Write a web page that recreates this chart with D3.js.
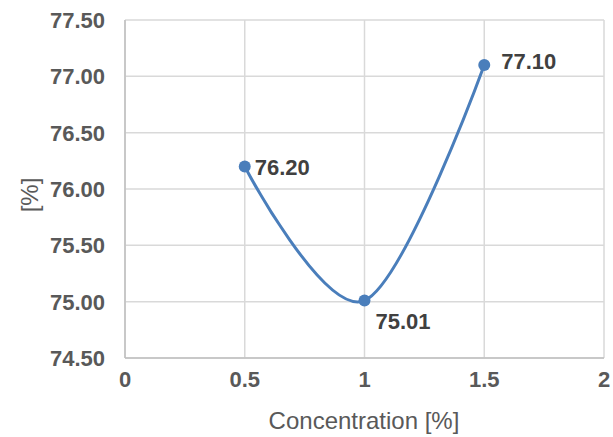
<!DOCTYPE html>
<html><head><meta charset="utf-8">
<script src="https://cdn.jsdelivr.net/npm/d3@7"></script>
<style>html,body{margin:0;padding:0;background:#fff;}svg{display:block;}</style>
</head><body>
<svg id="c" width="613" height="437"></svg>
<script>
const concentrations = [0.5, 1, 1.5];
const values = [76.20, 75.01, 77.10];
const valueLabels = ["76.20", "75.01", "77.10"];
const xTicks = [0, 0.5, 1, 1.5, 2];
const yTicks = [74.5, 75, 75.5, 76, 76.5, 77, 77.5];
const xTitle = "Concentration [%]";
const yTitle = "[%]";

const svg = d3.select("#c");
const x = d3.scaleLinear().domain([0, 2]).range([125, 604]);
const y = d3.scaleLinear().domain([74.5, 77.5]).range([358, 20]);
const gridColor = "#d9d9d9";
const textColor = "#595959";
const font = "Liberation Sans, Arial, sans-serif";

svg.append("g").selectAll("line").data(xTicks).join("line")
  .attr("x1", d => x(d)).attr("x2", d => x(d))
  .attr("y1", y(77.5)).attr("y2", y(74.5))
  .attr("stroke", gridColor).attr("stroke-width", 1.5);
svg.append("g").selectAll("line").data(yTicks).join("line")
  .attr("x1", x(0)).attr("x2", x(2))
  .attr("y1", d => y(d)).attr("y2", d => y(d))
  .attr("stroke", gridColor).attr("stroke-width", 1.5);

svg.append("line").attr("x1", x(0)).attr("x2", x(0)).attr("y1", y(77.5)).attr("y2", y(74.5))
  .attr("stroke", "#bfbfbf").attr("stroke-width", 1.5);
svg.append("line").attr("x1", x(0)).attr("x2", x(2)).attr("y1", y(74.5)).attr("y2", y(74.5))
  .attr("stroke", "#bfbfbf").attr("stroke-width", 1.5);

svg.append("g").selectAll("text").data(yTicks).join("text")
  .attr("x", 105).attr("y", d => y(d)).attr("dy", "0.36em")
  .attr("text-anchor", "end")
  .attr("font-family", font)
  .attr("font-weight", "bold").attr("font-size", 22).attr("fill", textColor)
  .text(d => d.toFixed(2));

svg.append("g").selectAll("text").data(xTicks).join("text")
  .attr("x", d => x(d)).attr("y", 387)
  .attr("text-anchor", "middle")
  .attr("font-family", font)
  .attr("font-weight", "bold").attr("font-size", 22).attr("fill", textColor)
  .text(d => String(d));

svg.append("text").attr("x", 364).attr("y", 429)
  .attr("text-anchor", "middle")
  .attr("font-family", font)
  .attr("font-size", 24).attr("fill", textColor).text(xTitle);
svg.append("text").attr("transform", `translate(38,${y(76) + 6}) rotate(-90)`)
  .attr("text-anchor", "middle")
  .attr("font-family", font)
  .attr("font-size", 24).attr("fill", textColor).text(yTitle);

const data = concentrations.map((c, i) => ({c, v: values[i], l: valueLabels[i]}));
const line = d3.line().x(d => x(d.c)).y(d => y(d.v)).curve(d3.curveCatmullRom.alpha(0));
svg.append("path").datum(data).attr("d", line)
  .attr("fill", "none").attr("stroke", "#4a7ebb").attr("stroke-width", 3);
svg.append("g").selectAll("circle").data(data).join("circle")
  .attr("cx", d => x(d.c)).attr("cy", d => y(d.v)).attr("r", 6)
  .attr("fill", "#4a7ebb");

const offsets = [[10, 1], [11, 21], [17, -4]];
svg.append("g").selectAll("text").data(data).join("text")
  .attr("x", (d, i) => x(d.c) + offsets[i][0])
  .attr("y", (d, i) => y(d.v) + offsets[i][1])
  .attr("dy", "0.36em")
  .attr("font-family", font)
  .attr("font-weight", "bold").attr("font-size", 22).attr("fill", "#404040")
  .text(d => d.l);
</script>
</body></html>
